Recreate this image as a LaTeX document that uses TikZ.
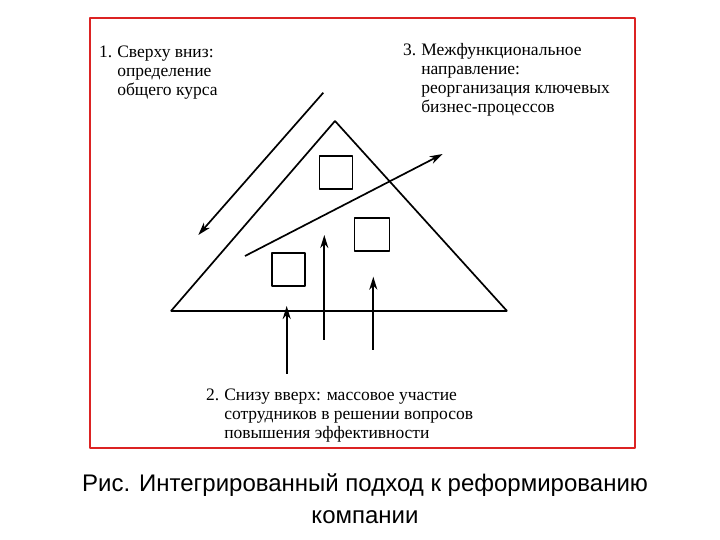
\documentclass[tikz,border=0pt]{standalone}
\usepackage{fontspec}
\setmainfont{Liberation Serif}
\newfontfamily\capfont{Liberation Sans}
\usetikzlibrary{arrows.meta}
\definecolor{framered}{RGB}{220,35,35}
\begin{document}
\begin{tikzpicture}[>={Stealth[length=13bp,width=8bp,inset=4bp]},line join=bevel,
  every node/.style={inner sep=0pt},
  label/.style={anchor=north west,font=\fontsize{17.5bp}{19bp}\selectfont,align=left},
  sq/.style={draw,line width=1.7bp,minimum width=33bp,minimum height=33bp},
  edge/.style={black,line width=1.7bp}]
\useasboundingbox (0bp,0bp) rectangle (720bp,540bp);
%%
\draw [framered,line width=2bp] (90bp,92bp) rectangle (635bp,522bp);
%% triangle
\coordinate (apex) at (335bp,419bp);
\coordinate (base_l) at (171bp,229bp);
\coordinate (base_r) at (507bp,229bp);
\draw [edge] (apex) -- (base_l) -- (base_r) -- cycle;
\node (sq_top) at (336bp,367.6bp) [sq] {};
\node (sq_right) at (372bp,305.8bp) [sq,minimum width=35bp] {};
\node (sq_left) at (288.5bp,270.3bp) [sq,minimum width=32.5bp] {};
%% arrows
\coordinate (down_a) at (323.3bp,447.3bp);
\coordinate (down_b) at (198.3bp,305bp);
\coordinate (cross_a) at (245bp,284bp);
\coordinate (cross_b) at (442.7bp,386bp);
\coordinate (up1_a) at (286.7bp,166bp);
\coordinate (up1_b) at (286.7bp,234bp);
\coordinate (up2_a) at (324.3bp,200bp);
\coordinate (up2_b) at (324.3bp,305bp);
\coordinate (up3_a) at (373.3bp,190bp);
\coordinate (up3_b) at (373.3bp,263.3bp);
\draw [edge,->] (down_a) -- (down_b);
\draw [edge,->] (cross_a) -- (cross_b);
\draw [edge,->] (up1_a) -- (up1_b);
\draw [edge,->] (up2_a) -- (up2_b);
\draw [edge,->] (up3_a) -- (up3_b);
%% labels
\node (lbl_down) at (99bp,496bp) [label] {\begin{tabular}{@{}l@{\hspace{5bp}}l@{}}1. & Сверху вниз:\\ & определение\\ & общего курса\end{tabular}};
\node (lbl_cross) at (403bp,498bp) [label] {\begin{tabular}{@{}l@{\hspace{5bp}}l@{}}3. & Межфункциональное\\ & направление:\\ & реорганизация ключевых\\ & бизнес-процессов\end{tabular}};
\node (lbl_up) at (206bp,153bp) [label] {\begin{tabular}{@{}l@{\hspace{5bp}}l@{}}2. & Снизу вверх: массовое участие\\ & сотрудников в решении вопросов\\ & повышения эффективности\end{tabular}};
%% caption
\node (caption) at (365bp,41bp) [align=center,font=\capfont\fontsize{24bp}{32bp}\selectfont] {Рис. Интегрированный подход к реформированию\\компании};
%
\end{tikzpicture}
\end{document}
